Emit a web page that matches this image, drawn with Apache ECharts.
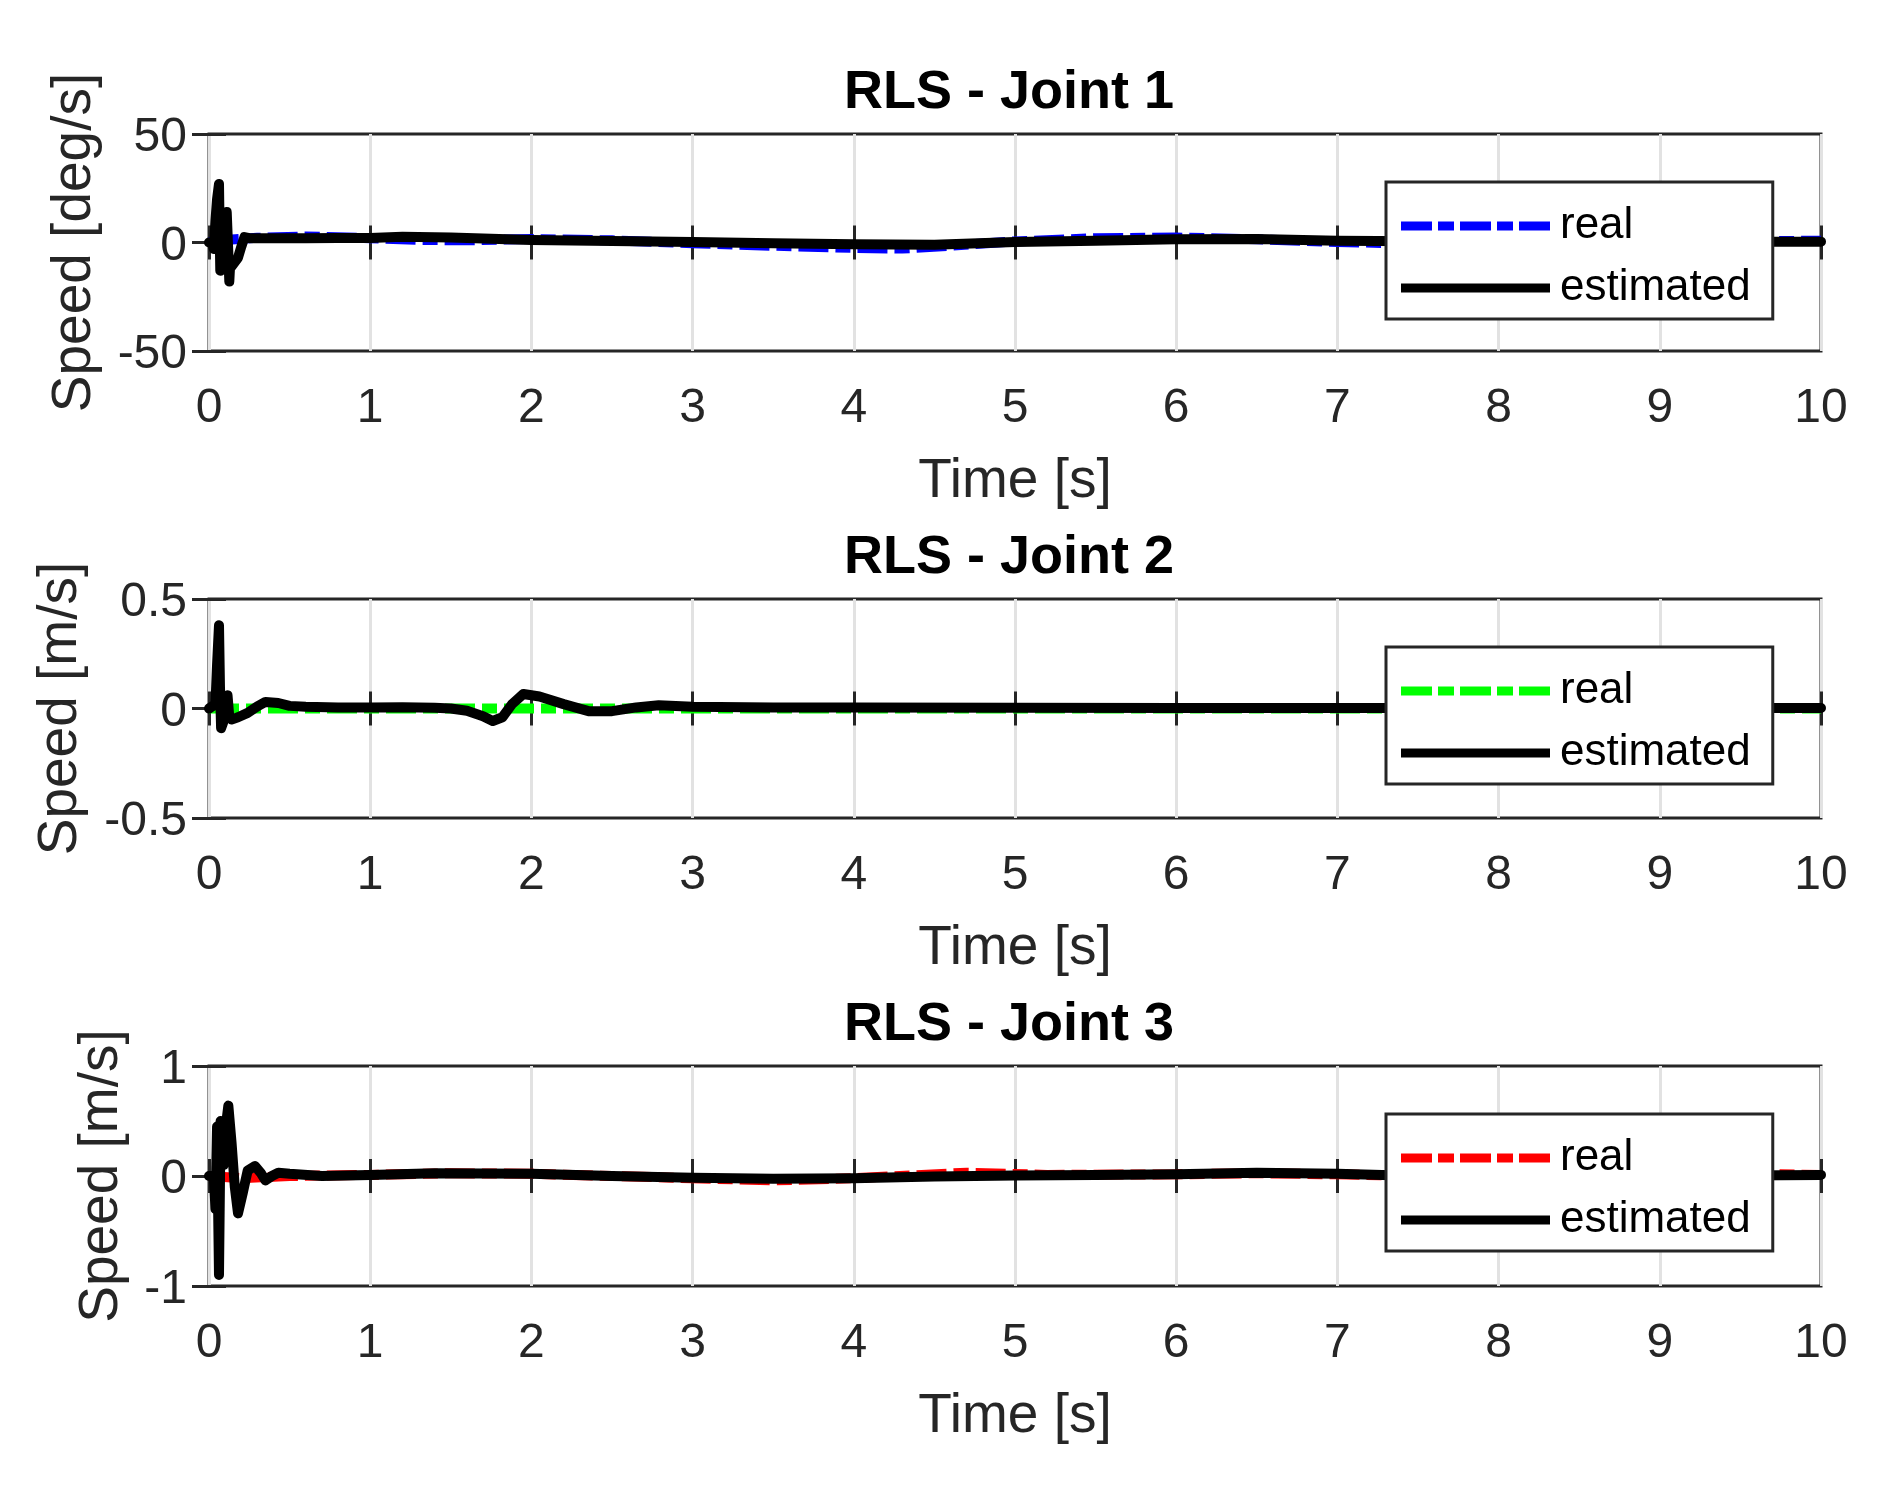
<!DOCTYPE html>
<html>
<head>
<meta charset="utf-8">
<title>RLS - Joint speeds</title>
<script src="https://cdn.jsdelivr.net/npm/echarts@6/dist/echarts.min.js"></script>
<style>
  html, body { margin: 0; padding: 0; background: #fff; }
  #chart { width: 1892px; height: 1490px; }
</style>
</head>
<body>
<div id="chart"></div>
<script>
// ---- data (time in s) ----
const titles = ['RLS - Joint 1', 'RLS - Joint 2', 'RLS - Joint 3'];
const yNames = ['Speed [deg/s]', 'Speed [m/s]', 'Speed [m/s]'];
const yLimits = [[-50, 50, 50], [-0.5, 0.5, 0.5], [-1, 1, 1]];
const realColors = ['#0000ff', '#00ff00', '#ff0000'];

// joint 1
const j1RealT = [0, 0.1, 0.3, 0.6, 1.0, 1.3, 1.6, 2.0, 2.5, 3.0, 3.5, 4.0, 4.3, 4.6, 5.0, 5.5, 6.0, 6.5, 7.0, 7.5, 8.0, 8.5, 9.0, 9.5, 10];
const j1Real = [0, 1.2, 2.2, 2.8, 2.0, 1.2, 1.0, 1.6, 1.0, -0.3, -1.5, -2.5, -2.8, -1.5, 0.5, 2.0, 2.3, 1.5, 0.2, -0.5, -0.3, 0.0, 0.3, 0.6, 0.8];
const j1EstT = [0, 0.02, 0.03, 0.04, 0.05, 0.062, 0.066, 0.07, 0.08, 0.09, 0.1, 0.11, 0.12, 0.126, 0.13, 0.15, 0.18, 0.2, 0.22, 0.25, 0.4, 0.6, 0.8, 1.0, 1.2, 1.5, 2.0, 2.5, 3.0, 3.5, 4.0, 4.5, 5.0, 5.5, 6.0, 6.5, 7.0, 7.5, 8.0, 8.5, 9.0, 9.5, 10];
const j1Est = [0, 0, -3, 10, 20, 27, 5, -13, 0, 8, -12, 14, -5, -18, -12, -10, -7, -2, 2.5, 2, 2, 2, 2.1, 2.1, 2.7, 2.3, 1.2, 0.7, 0.2, -0.4, -0.8, -1.0, 0.2, 0.8, 1.5, 1.6, 0.8, 0.6, 0.3, 0.2, 0.2, 0.3, 0.4];

// joint 2
const j2RealT = [0, 10];
const j2Real = [0, 0];
const j2EstT = [0, 0.04, 0.05, 0.062, 0.068, 0.075, 0.09, 0.1, 0.115, 0.125, 0.14, 0.18, 0.24, 0.3, 0.35, 0.43, 0.5, 0.6, 0.8, 1.0, 1.2, 1.4, 1.5, 1.6, 1.7, 1.76, 1.82, 1.88, 1.95, 2.05, 2.2, 2.36, 2.5, 2.65, 2.79, 3.0, 3.5, 4.0, 5, 6, 7, 8, 9, 10];
const j2Est = [0, 0.02, 0.2, 0.38, 0.1, -0.09, -0.06, 0.02, 0.06, -0.03, -0.05, -0.04, -0.02, 0.01, 0.03, 0.025, 0.012, 0.008, 0.005, 0.005, 0.006, 0.003, 0.0, -0.01, -0.035, -0.057, -0.04, 0.02, 0.066, 0.055, 0.02, -0.013, -0.012, 0.005, 0.015, 0.008, 0.005, 0.004, 0.003, 0.002, 0.002, 0.002, 0.002, 0.002];

// joint 3
const j3RealT = [0, 0.2, 0.5, 1, 1.5, 2, 2.5, 3, 3.5, 4, 4.7, 5.2, 6, 6.5, 7, 7.5, 8, 8.5, 9, 9.5, 10];
const j3Real = [0, -0.02, 0.0, 0.01, 0.025, 0.02, 0.0, -0.02, -0.04, -0.02, 0.03, 0.01, 0.015, 0.025, 0.015, 0.0, -0.01, 0.0, 0.01, 0.02, 0.01];
const j3EstT = [0, 0.03, 0.04, 0.05, 0.062, 0.072, 0.09, 0.1, 0.12, 0.14, 0.16, 0.18, 0.21, 0.24, 0.285, 0.32, 0.35, 0.39, 0.43, 0.5, 0.7, 1.0, 1.4, 2.0, 2.5, 3.0, 3.5, 4.0, 4.5, 5.0, 5.5, 6.0, 6.5, 7.0, 7.5, 8.0, 8.5, 9.0, 9.5, 10];
const j3Est = [0, 0, -0.3, 0.45, -0.9, 0.5, 0.1, 0.4, 0.64, 0.3, -0.1, -0.34, -0.15, 0.05, 0.09, 0.03, -0.04, 0.0, 0.03, 0.02, 0.0, 0.01, 0.025, 0.02, 0.0, -0.015, -0.025, -0.02, -0.005, 0.005, 0.01, 0.015, 0.03, 0.02, 0.0, -0.01, 0.0, 0.005, 0.005, 0.01];

const realT = [j1RealT, j2RealT, j3RealT];
const realV = [j1Real, j2Real, j3Real];
const estT = [j1EstT, j2EstT, j3EstT];
const estV = [j1Est, j2Est, j3Est];

// ---- layout ----
const FONT = 'Liberation Sans, Arial, Helvetica, sans-serif';
const AX = '#262626';
const gridTops = [134, 599, 1066];
const gridHeights = [217, 219, 220];
const legendTops = [182, 647, 1114];
const yNameGaps = [107, 121, 80];
const pairs = (t, v) => t.map((x, i) => [x, v[i]]);

// legend glyphs: dash-dot bar and solid bar, 149 x 9
const dashIcon = 'path://M0,0h31v9h-31z M37,0h16v9h-16z M59,0h31v9h-31z M96,0h16v9h-16z M118,0h31v9h-31z';
const solidIcon = 'path://M0,0h149v9h-149z';

const grid = [], xAxis = [], yAxis = [], series = [], title = [], legend = [];

for (let i = 0; i < 3; i++) {
  grid.push({
    left: 209, top: gridTops[i], width: 1612, height: gridHeights[i],
    show: true, borderColor: AX, borderWidth: 3, backgroundColor: '#fff'
  });
  title.push({
    text: titles[i], left: 1004, top: gridTops[i] - 73, textAlign: 'center',
    textStyle: { fontFamily: FONT, fontSize: 54, fontWeight: 'bold', color: '#000' }
  });
  const tick = { show: true, inside: true, length: 17, lineStyle: { color: AX, width: 3 } };
  // bottom x axis (labels, grid lines)
  xAxis.push({
    gridIndex: i, type: 'value', min: 0, max: 10, interval: 1, position: 'bottom',
    axisLine: { show: false }, axisTick: tick,
    axisLabel: { fontFamily: FONT, fontSize: 48, color: AX, margin: 34 },
    splitLine: { show: true, lineStyle: { color: '#e2e2e2', width: 3 } },
    name: 'Time [s]', nameLocation: 'middle', nameGap: 103,
    nameTextStyle: { fontFamily: FONT, fontSize: 55, color: AX }
  });
  yAxis.push({
    gridIndex: i, type: 'value', min: yLimits[i][0], max: yLimits[i][1], interval: yLimits[i][2],
    axisLine: { show: false }, axisTick: tick,
    axisLabel: {
      margin: 22, formatter: '{t|{value}}',
      rich: { t: { fontFamily: FONT, fontSize: 48, color: AX, padding: [8, 0, 0, 0] } }
    },
    splitLine: { show: false },
    name: yNames[i], nameLocation: 'middle', nameGap: yNameGaps[i],
    nameTextStyle: { fontFamily: FONT, fontSize: 55, color: AX }
  });
  legend.push({
    data: [
      { name: 'real_' + i, icon: dashIcon },
      { name: 'estimated_' + i, icon: solidIcon }
    ],
    formatter: n => n.split('_')[0],
    orient: 'vertical', left: 1386, top: legendTops[i],
    padding: [22, 22, 9, 15], itemGap: 18,
    itemWidth: 149, itemHeight: 9,
    selectedMode: false,
    itemStyle: { borderWidth: 0 },
    lineStyle: { width: 0 },
    backgroundColor: '#fff', borderColor: AX, borderWidth: 3, borderRadius: 0,
    textStyle: { fontFamily: FONT, fontSize: 44, color: '#000', padding: [0, 0, 0, 5] }
  });
  series.push({
    name: 'real_' + i, type: 'line', xAxisIndex: i, yAxisIndex: i,
    data: pairs(realT[i], realV[i]), symbol: 'none', animation: false,
    lineStyle: { color: realColors[i], width: 10, type: [30, 7, 15, 7] },
    itemStyle: { color: realColors[i] }
  });
  series.push({
    name: 'estimated_' + i, type: 'line', xAxisIndex: i, yAxisIndex: i,
    data: pairs(estT[i], estV[i]), symbol: 'none', animation: false,
    lineStyle: { color: '#000', width: 10, cap: 'round', join: 'round' },
    itemStyle: { color: '#000' }
  });
}

// mirrored ticks on top and right (box style)
for (let i = 0; i < 3; i++) {
  const tick = { show: true, inside: true, length: 17, lineStyle: { color: AX, width: 3 } };
  xAxis.push({
    gridIndex: i, type: 'value', min: 0, max: 10, interval: 1, position: 'top',
    axisLine: { show: false }, axisTick: tick, axisLabel: { show: false }, splitLine: { show: false }
  });
  yAxis.push({
    gridIndex: i, type: 'value', min: yLimits[i][0], max: yLimits[i][1], interval: yLimits[i][2],
    position: 'right',
    axisLine: { show: false }, axisTick: tick, axisLabel: { show: false }, splitLine: { show: false }
  });
}

const chart = echarts.init(document.getElementById('chart'), null, { renderer: 'canvas' });
const option = {
  backgroundColor: '#fff',
  animation: false,
  title, legend, grid, xAxis, yAxis, series
};
option && chart.setOption(option);
</script>
</body>
</html>
